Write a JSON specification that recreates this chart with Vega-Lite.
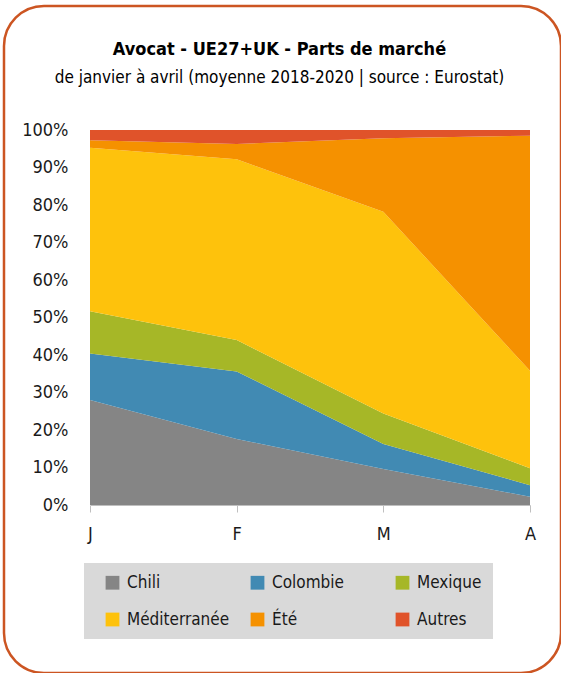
{
  "$schema": "https://vega.github.io/schema/vega-lite/v6.json",
  "autosize": "none",
  "width": 557,
  "height": 667,
  "padding": {"left": 4, "top": 6, "right": 0, "bottom": 0},
  "background": "white",
  "config": {
    "font": "'DejaVu Sans Condensed', Roboto, sans-serif",
    "view": {"stroke": "#CC5522", "strokeWidth": 2.5, "cornerRadius": 40}
  },
  "title": {
    "text": "Avocat - UE27+UK - Parts de marché",
    "subtitle": "de janvier à avril (moyenne 2018-2020 | source : Eurostat)",
    "anchor": "middle",
    "frame": "group",
    "dx": -3,
    "offset": -80,
    "fontSize": 18,
    "fontWeight": "bold",
    "color": "#000000",
    "subtitleFontSize": 17,
    "subtitleColor": "#000000",
    "subtitlePadding": 11,
    "font": "'DejaVu Sans Condensed', Roboto, sans-serif",
    "subtitleFont": "'DejaVu Sans Condensed', Roboto, sans-serif"
  },
  "data": {
    "values": [
      {"m": "J", "s": "Chili", "o": 1, "v": 28.0},
      {"m": "J", "s": "Colombie", "o": 2, "v": 12.4},
      {"m": "J", "s": "Mexique", "o": 3, "v": 11.3},
      {"m": "J", "s": "Méditerranée", "o": 4, "v": 43.6},
      {"m": "J", "s": "Été", "o": 5, "v": 2.0},
      {"m": "J", "s": "Autres", "o": 6, "v": 2.7},
      {"m": "F", "s": "Chili", "o": 1, "v": 17.6},
      {"m": "F", "s": "Colombie", "o": 2, "v": 18.0},
      {"m": "F", "s": "Mexique", "o": 3, "v": 8.4},
      {"m": "F", "s": "Méditerranée", "o": 4, "v": 48.2},
      {"m": "F", "s": "Été", "o": 5, "v": 4.1},
      {"m": "F", "s": "Autres", "o": 6, "v": 3.7},
      {"m": "M", "s": "Chili", "o": 1, "v": 9.6},
      {"m": "M", "s": "Colombie", "o": 2, "v": 6.7},
      {"m": "M", "s": "Mexique", "o": 3, "v": 8.1},
      {"m": "M", "s": "Méditerranée", "o": 4, "v": 53.8},
      {"m": "M", "s": "Été", "o": 5, "v": 19.6},
      {"m": "M", "s": "Autres", "o": 6, "v": 2.2},
      {"m": "A", "s": "Chili", "o": 1, "v": 2.2},
      {"m": "A", "s": "Colombie", "o": 2, "v": 3.1},
      {"m": "A", "s": "Mexique", "o": 3, "v": 4.5},
      {"m": "A", "s": "Méditerranée", "o": 4, "v": 26.0},
      {"m": "A", "s": "Été", "o": 5, "v": 62.7},
      {"m": "A", "s": "Autres", "o": 6, "v": 1.5}
    ]
  },
  "mark": {"type": "area", "opacity": 1},
  "encoding": {
    "x": {
      "field": "m",
      "type": "ordinal",
      "sort": ["J", "F", "M", "A"],
      "scale": {"range": [86, 526], "padding": 0},
      "axis": {
        "title": null,
        "offset": -168,
        "labelAngle": 0,
        "labelFontSize": 18,
        "labelColor": "#1a1a1a",
        "labelPadding": 13,
        "domainColor": "#BFBFBF",
        "tickColor": "#BFBFBF",
        "tickSize": 7,
        "grid": false
      }
    },
    "y": {
      "field": "v",
      "type": "quantitative",
      "stack": "normalize",
      "scale": {"range": [499, 124], "domain": [0, 1]},
      "axis": {
        "title": null,
        "offset": -86,
        "format": ".0%",
        "values": [0, 0.1, 0.2, 0.3, 0.4, 0.5, 0.6, 0.7, 0.8, 0.9, 1],
        "labelFontSize": 18,
        "labelColor": "#1a1a1a",
        "labelPadding": 22,
        "ticks": false,
        "domainColor": "#D9D9D9",
        "grid": false
      }
    },
    "color": {
      "field": "s",
      "type": "nominal",
      "sort": ["Chili", "Colombie", "Mexique", "Méditerranée", "Été", "Autres"],
      "scale": {
        "domain": ["Chili", "Colombie", "Mexique", "Méditerranée", "Été", "Autres"],
        "range": ["#858585", "#418AB3", "#A6B727", "#FEC20C", "#F59100", "#E0532A"]
      },
      "legend": {
        "title": null,
        "orient": "none",
        "legendX": 80,
        "legendY": 557,
        "direction": "horizontal",
        "columns": 3,
        "gridAlign": "all",
        "fillColor": "#D9D9D9",
        "padding": 11,
        "symbolOffset": 9,
        "symbolType": "square",
        "symbolSize": 190,
        "symbolStrokeWidth": 0,
        "labelFontSize": 17,
        "labelColor": "#1a1a1a",
        "labelOffset": 6,
        "labelExpr": "(datum.label == 'Mexique' || datum.label == 'Autres') ? datum.label + '\u00a0\u00a0\u00a0\u00a0\u00a0\u00a0\u00a0' : datum.label",
        "columnPadding": 10,
        "rowPadding": 19
      }
    },
    "order": {"field": "o", "type": "quantitative", "sort": "ascending"}
  }
}
